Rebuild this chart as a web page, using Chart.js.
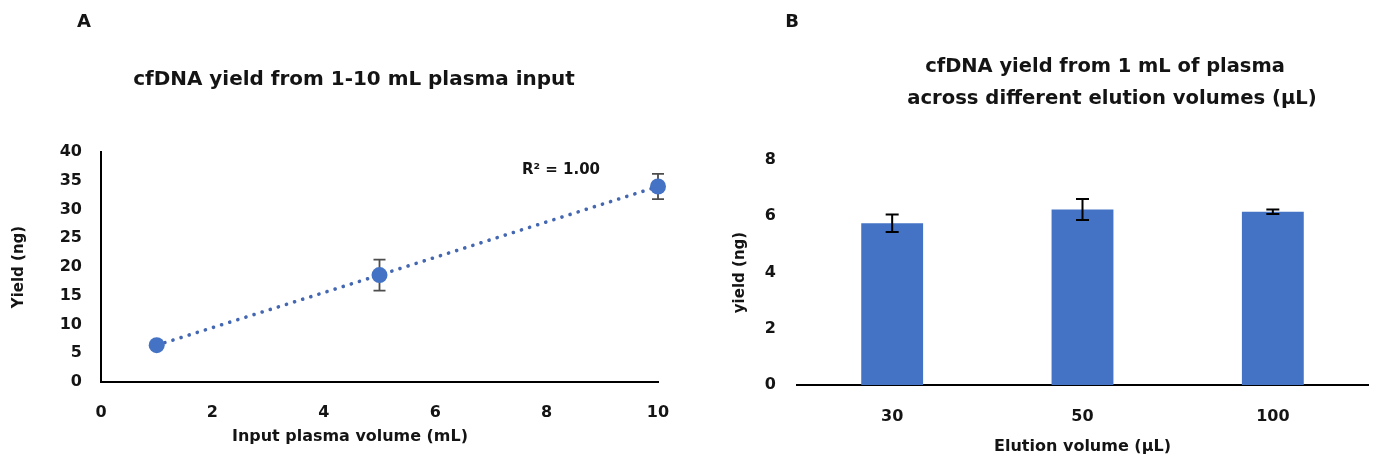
<!DOCTYPE html>
<html>
<head>
<meta charset="utf-8">
<script src="https://cdn.jsdelivr.net/npm/chart.js@4.4.1/dist/chart.umd.min.js"></script>
<style>
body { margin: 0; background: #fff; width: 1374px; height: 459px; overflow: hidden; position: relative; }
.box { position: absolute; top: 0; height: 459px; }
</style>
</head>
<body>
<div class="box" style="left:0;width:708px"><canvas id="chartA"></canvas></div>
<div class="box" style="left:708px;width:666px"><canvas id="chartB"></canvas></div>
<script>
// panel A: yield vs plasma input
var inputVolumes = [1, 5, 10];
var inputYields = [6.4, 18.6, 34.0];
var inputErrors = [0.3, 2.7, 2.2];
var rSquaredText = 'R\u00b2 = 1.00';

// panel B: yield vs elution volume
var elutionLabels = ['30', '50', '100'];
var elutionYields = [5.75, 6.24, 6.16];
var elutionErrors = [0.31, 0.37, 0.08];

var FONT = '"DejaVu Sans", sans-serif';
var TEXT = '#141414';
var BLUE = '#4472C4';

Chart.defaults.font.family = FONT;
Chart.defaults.color = TEXT;

var errorBars = {
	id: 'errorBars',
	draw: function(chart, opts) {
		var meta = chart.getDatasetMeta(0);
		var yScale = chart.scales.y;
		var ctx = chart.ctx;
		ctx.save();
		ctx.strokeStyle = opts.color;
		ctx.lineWidth = opts.width;
		meta.data.forEach(function(el, i) {
			var v = opts.values[i], e = opts.errors[i];
			var top = yScale.getPixelForValue(v + e);
			var bot = yScale.getPixelForValue(v - e);
			var x = el.x, c = opts.cap / 2;
			ctx.beginPath();
			ctx.moveTo(x, top); ctx.lineTo(x, bot);
			ctx.moveTo(x - c, top); ctx.lineTo(x + c, top);
			ctx.moveTo(x - c, bot); ctx.lineTo(x + c, bot);
			ctx.stroke();
		});
		ctx.restore();
	},
	beforeDatasetsDraw: function(chart, args, opts) {
		if (opts.behind) this.draw(chart, opts);
	},
	afterDatasetsDraw: function(chart, args, opts) {
		if (!opts.behind) this.draw(chart, opts);
	}
};

// free text; if w is given the font size is fitted to that width
var freeText = {
	id: 'freeText',
	afterDraw: function(chart, args, opts) {
		var ctx = chart.ctx;
		ctx.save();
		ctx.fillStyle = TEXT;
		ctx.textAlign = 'center';
		ctx.textBaseline = 'middle';
		opts.items.forEach(function(t) {
			var size = t.size;
			if (t.w) {
				ctx.font = 'bold 20px ' + FONT;
				size = 20 * t.w / ctx.measureText(t.text).width;
			}
			ctx.font = 'bold ' + size.toFixed(2) + 'px ' + FONT;
			ctx.fillText(t.text, t.x, t.y);
		});
		ctx.restore();
	}
};

function fixWidth(w) { return function(scale) { scale.width = w; }; }
function fixHeight(h) { return function(scale) { scale.height = h; }; }

new Chart(document.getElementById('chartA'), {
	type: 'scatter',
	data: {
		datasets: [{
			data: inputVolumes.map(function(x, i) { return { x: x, y: inputYields[i] }; }),
			showLine: true,
			clip: false,
			borderColor: '#4467b2',
			borderWidth: 3.6,
			borderDash: [0.1, 8.4],
			borderCapStyle: 'round',
			pointRadius: 8,
			pointBackgroundColor: BLUE,
			pointBorderColor: BLUE,
			pointBorderWidth: 0
		}]
	},
	options: {
		responsive: true,
		maintainAspectRatio: false,
		animation: false,
		layout: { padding: { left: 0, right: 50, top: 152, bottom: 0 } },
		plugins: {
			legend: { display: false },
			tooltip: { enabled: false },
			errorBars: { values: inputYields, errors: inputErrors, color: '#4d4d4d', width: 1.8, cap: 12, behind: true },
			freeText: { items: [
				{ text: 'A', x: 84, y: 22, size: 18 },
				{ text: 'cfDNA yield from 1-10 mL plasma input', x: 354, y: 80, w: 442 },
				{ text: rSquaredText, x: 561, y: 170, w: 78 },
				{ text: 'Input plasma volume (mL)', x: 350, y: 437, w: 236 }
			] }
		},
		scales: {
			x: {
				type: 'linear', min: 0, max: 10,
				afterFit: fixHeight(77),
				grid: { display: false, drawTicks: false },
				border: { display: true, color: '#000', width: 2 },
				ticks: { stepSize: 2, padding: 21, font: { size: 16, weight: 'bold' } }
			},
			y: {
				min: 0, max: 40,
				afterFit: fixWidth(101),
				grid: { display: false, drawTicks: false },
				border: { display: true, color: '#000', width: 2 },
				ticks: { stepSize: 5, padding: 19, font: { size: 16, weight: 'bold' } },
				title: { display: true, text: 'Yield (ng)', padding: { top: 10, bottom: 0 }, font: { size: 15, weight: 'bold' } }
			}
		}
	},
	plugins: [errorBars, freeText]
});

new Chart(document.getElementById('chartB'), {
	type: 'bar',
	data: {
		labels: elutionLabels,
		datasets: [{
			data: elutionYields,
			backgroundColor: BLUE,
			borderWidth: 0,
			categoryPercentage: 1,
			barPercentage: 0.325
		}]
	},
	options: {
		responsive: true,
		maintainAspectRatio: false,
		animation: false,
		layout: { padding: { left: 0, right: 6, top: 160, bottom: 0 } },
		plugins: {
			legend: { display: false },
			tooltip: { enabled: false },
			errorBars: { values: elutionYields, errors: elutionErrors, color: '#000', width: 2, cap: 13, behind: false },
			freeText: { items: [
				{ text: 'B', x: 84, y: 22, size: 18 },
				{ text: 'cfDNA yield from 1 mL of plasma', x: 397, y: 67, w: 360 },
				{ text: 'across different elution volumes (\u00b5L)', x: 404, y: 99, w: 410 }
			] }
		},
		scales: {
			x: {
				afterFit: fixHeight(74),
				grid: { display: false, drawTicks: false },
				border: { display: true, color: '#000', width: 2 },
				ticks: { padding: 22, font: { size: 16, weight: 'bold' } },
				title: { display: true, text: 'Elution volume (\u00b5L)', padding: { top: 0, bottom: 3 }, font: { size: 16, weight: 'bold' } }
			},
			y: {
				min: 0, max: 8,
				afterFit: fixWidth(89),
				grid: { display: false, drawTicks: false },
				border: { display: false },
				ticks: { stepSize: 2, padding: 21, font: { size: 16, weight: 'bold' } },
				title: { display: true, text: 'yield (ng)', padding: { top: 23, bottom: 0 }, font: { size: 15, weight: 'bold' } }
			}
		}
	},
	plugins: [errorBars, freeText]
});
</script>
</body>
</html>
